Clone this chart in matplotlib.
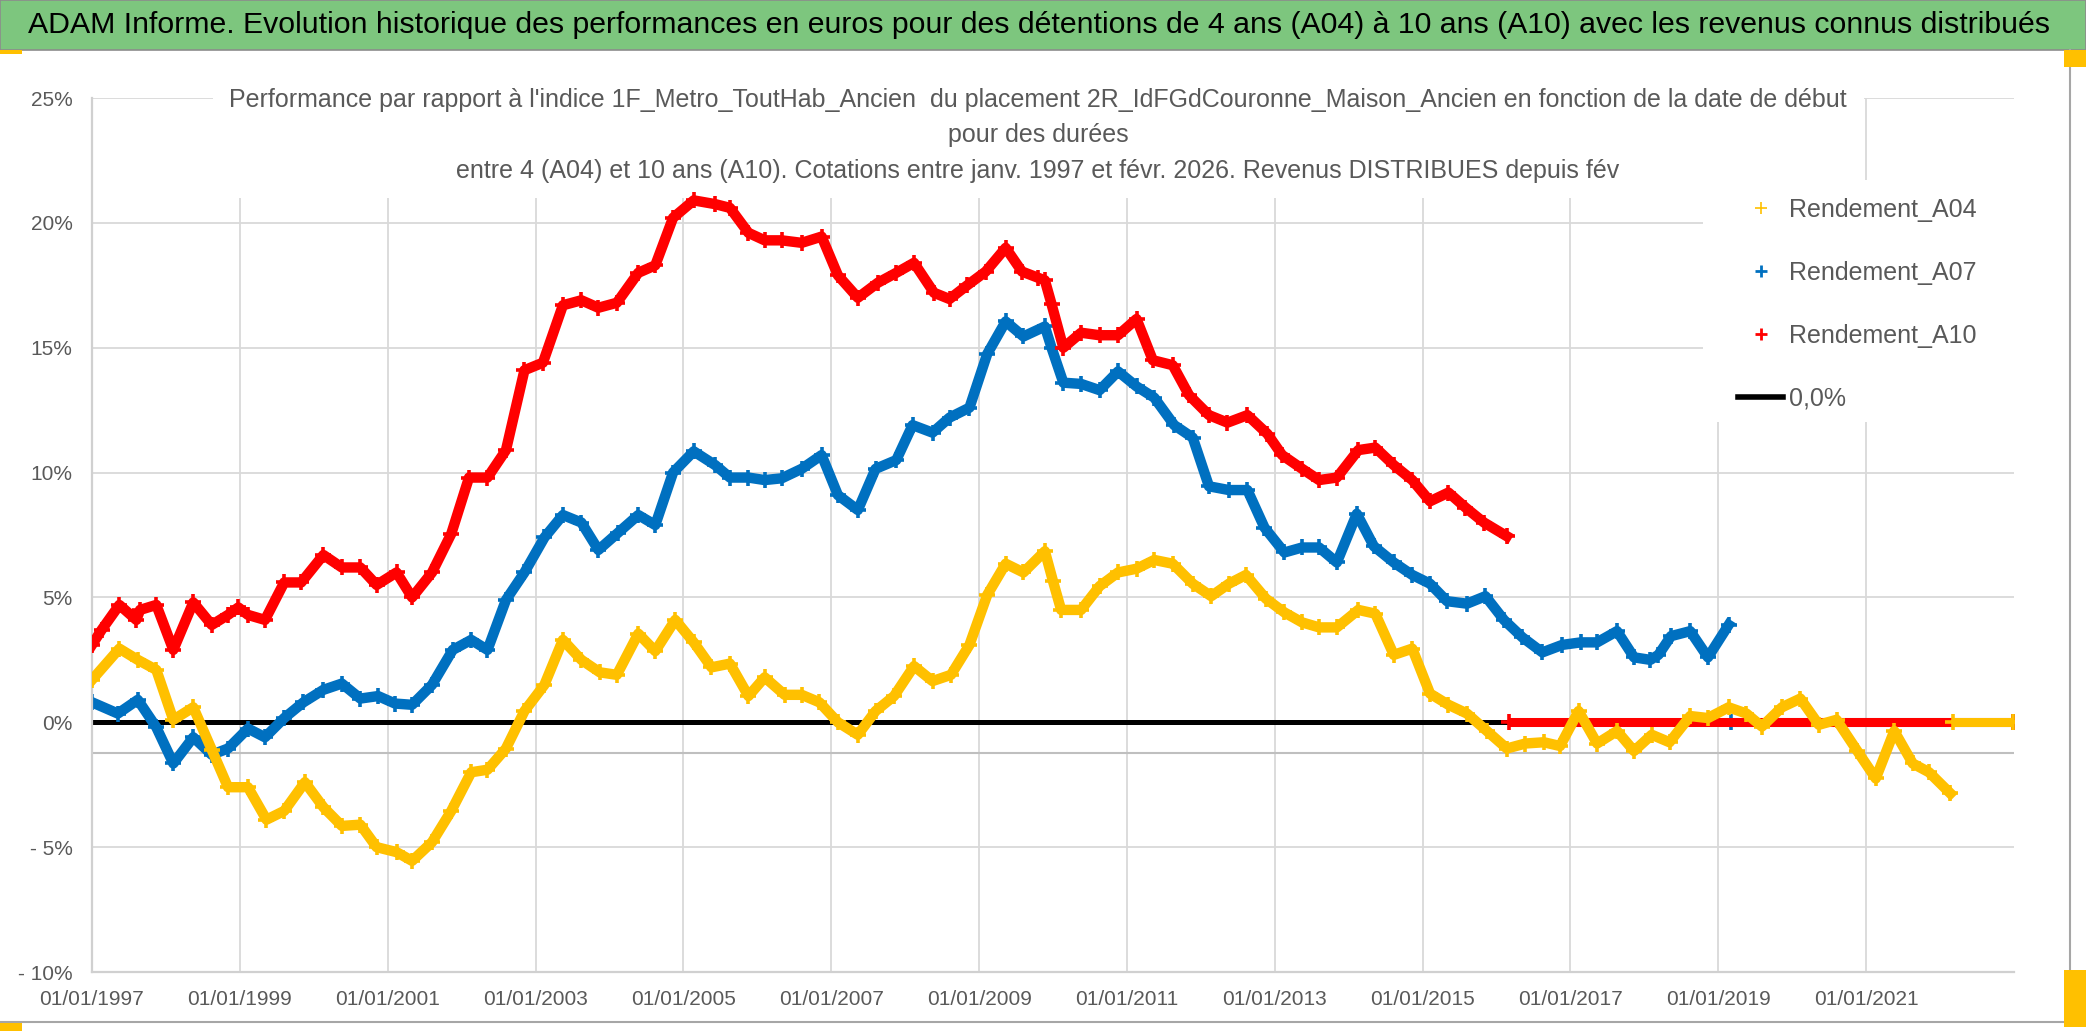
import matplotlib
matplotlib.use('Agg')
import matplotlib.pyplot as plt
from matplotlib.patches import Rectangle
from matplotlib.lines import Line2D

# ---- data (x = decimal year of start date, y = %) ----
a04_years = [1997.00, 1997.37, 1997.62, 1997.87, 1998.10, 1998.37, 1998.62, 1998.84, 1999.11, 1999.36,
             1999.60, 1999.88, 2000.13, 2000.38, 2000.63, 2000.85, 2001.12, 2001.33, 2001.60, 2001.86,
             2002.13, 2002.35, 2002.60, 2002.85, 2003.12, 2003.37, 2003.62, 2003.87, 2004.10, 2004.39,
             2004.62, 2004.89, 2005.14, 2005.38, 2005.63, 2005.88, 2006.10, 2006.37, 2006.60, 2006.84,
             2007.09, 2007.36, 2007.60, 2007.85, 2008.12, 2008.37, 2008.62, 2008.87, 2009.11, 2009.36,
             2009.60, 2009.89, 2010.00, 2010.11, 2010.38, 2010.63, 2010.88, 2011.13, 2011.37, 2011.62,
             2011.89, 2012.14, 2012.38, 2012.61, 2012.88, 2013.13, 2013.37, 2013.60, 2013.84, 2014.13,
             2014.36, 2014.61, 2014.86, 2015.10, 2015.35, 2015.60, 2015.87, 2016.14, 2016.39, 2016.64,
             2016.86, 2017.11, 2017.36, 2017.63, 2017.86, 2018.10, 2018.34, 2018.62, 2018.86, 2019.14,
             2019.38, 2019.59, 2019.86, 2020.11, 2020.36, 2020.60, 2020.88, 2021.13, 2021.38, 2021.63,
             2021.85, 2022.14]
a04_vals = [1.7, 2.95, 2.5, 2.1, 0.1, 0.6, -1.1, -2.6, -2.6, -3.9,
            -3.55, -2.4, -3.4, -4.15, -4.1, -5.0, -5.2, -5.55, -4.8, -3.55,
            -2.0, -1.9, -1.05, 0.45, 1.5, 3.3, 2.5, 2.0, 1.9, 3.55,
            2.85, 4.1, 3.2, 2.2, 2.35, 1.05, 1.8, 1.1, 1.1, 0.8,
            0.0, -0.5, 0.45, 1.05, 2.25, 1.65, 1.9, 3.1, 5.1, 6.35,
            6.0, 6.85, 5.65, 4.5, 4.5, 5.45, 6.0, 6.15, 6.5, 6.35,
            5.55, 5.05, 5.55, 5.9, 4.95, 4.4, 4.0, 3.8, 3.8, 4.5,
            4.35, 2.7, 2.95, 1.15, 0.7, 0.35, -0.35, -1.05, -0.85, -0.8,
            -0.95, 0.45, -0.85, -0.35, -1.15, -0.5, -0.8, 0.25, 0.17, 0.6,
            0.35, -0.17, 0.6, 0.95, -0.1, 0.1, -1.15, -2.25, -0.35, -1.65,
            -2.0, -2.85]

a07_years = [1997.00, 1997.35, 1997.62, 1997.87, 1998.10, 1998.37, 1998.62, 1998.84, 1999.11, 1999.34,
             1999.60, 1999.86, 2000.13, 2000.38, 2000.63, 2000.87, 2001.10, 2001.33, 2001.60, 2001.88,
             2002.13, 2002.35, 2002.60, 2002.85, 2003.12, 2003.37, 2003.62, 2003.85, 2004.12, 2004.39,
             2004.62, 2004.86, 2005.14, 2005.43, 2005.63, 2005.88, 2006.10, 2006.33, 2006.60, 2006.87,
             2007.09, 2007.36, 2007.60, 2007.88, 2008.10, 2008.37, 2008.60, 2008.87, 2009.11, 2009.36,
             2009.60, 2009.89, 2009.98, 2010.14, 2010.38, 2010.63, 2010.88, 2011.13, 2011.37, 2011.64,
             2011.89, 2012.11, 2012.38, 2012.63, 2012.86, 2013.13, 2013.37, 2013.60, 2013.84, 2014.11,
             2014.34, 2014.61, 2014.86, 2015.10, 2015.33, 2015.60, 2015.85, 2016.10, 2016.35, 2016.62,
             2016.89, 2017.14, 2017.36, 2017.63, 2017.86, 2018.08, 2018.19, 2018.36, 2018.62, 2018.86,
             2019.14]
a07_vals = [0.8, 0.35, 0.9, -0.2, -1.65, -0.6, -1.3, -1.05, -0.25, -0.6,
            0.17, 0.8, 1.3, 1.55, 0.95, 1.05, 0.75, 0.7, 1.5, 2.9,
            3.3, 2.9, 4.9, 6.0, 7.4, 8.3, 8.0, 6.9, 7.6, 8.3,
            7.9, 10.0, 10.85, 10.3, 9.8, 9.8, 9.7, 9.77, 10.15, 10.7,
            9.1, 8.5, 10.15, 10.5, 11.9, 11.6, 12.2, 12.6, 14.75, 16.05,
            15.45, 15.85, 15.0, 13.6, 13.55, 13.3, 14.05, 13.45, 13.0, 11.9,
            11.4, 9.45, 9.3, 9.3, 7.8, 6.8, 7.0, 7.0, 6.4, 8.35,
            7.05, 6.4, 5.9, 5.55, 4.85, 4.75, 5.05, 4.1, 3.4, 2.8,
            3.1, 3.2, 3.2, 3.65, 2.6, 2.5, 2.7, 3.45, 3.65, 2.6,
            3.9]

a10_years = [1997.00, 1997.13, 1997.37, 1997.60, 1997.65, 1997.87, 1998.10, 1998.37, 1998.62, 1998.84,
             1998.98, 1999.11, 1999.34, 1999.60, 1999.83, 2000.13, 2000.38, 2000.63, 2000.85, 2001.12,
             2001.33, 2001.60, 2001.86, 2002.10, 2002.35, 2002.60, 2002.85, 2003.10, 2003.37, 2003.62,
             2003.85, 2004.10, 2004.39, 2004.62, 2004.86, 2005.14, 2005.43, 2005.63, 2005.88, 2006.10,
             2006.33, 2006.60, 2006.87, 2007.09, 2007.36, 2007.63, 2007.88, 2008.12, 2008.39, 2008.60,
             2008.84, 2009.09, 2009.36, 2009.58, 2009.80, 2009.89, 2009.98, 2010.14, 2010.38, 2010.63,
             2010.88, 2011.13, 2011.35, 2011.62, 2011.84, 2012.11, 2012.36, 2012.63, 2012.90, 2013.10,
             2013.37, 2013.60, 2013.84, 2014.13, 2014.36, 2014.61, 2014.86, 2015.10, 2015.35, 2015.58,
             2015.83, 2016.14]
a10_vals = [3.1, 3.7, 4.7, 4.1, 4.5, 4.7, 2.9, 4.8, 3.9, 4.3,
            4.6, 4.3, 4.1, 5.6, 5.6, 6.7, 6.2, 6.2, 5.5, 6.0,
            5.0, 6.0, 7.55, 9.8, 9.8, 10.9, 14.1, 14.4, 16.7, 16.9,
            16.6, 16.8, 18.0, 18.3, 20.2, 20.9, 20.75, 20.6, 19.6, 19.3,
            19.3, 19.2, 19.45, 17.9, 17.0, 17.6, 18.0, 18.4, 17.2, 16.95,
            17.5, 18.05, 19.0, 18.05, 17.8, 17.7, 16.75, 15.0, 15.6, 15.5,
            15.5, 16.15, 14.5, 14.3, 13.1, 12.3, 12.0, 12.3, 11.55, 10.7,
            10.15, 9.7, 9.8, 10.9, 11.0, 10.3, 9.7, 8.85, 9.2, 8.6,
            8.0, 7.45]

# after the last known value each series sits on 0 until the end of the axis
zero_tail_start = {'A04': 2022.17, 'A07': 2019.17, 'A10': 2016.17}
zero_tail_end = 2022.99

x_ticks = [1997, 1999, 2001, 2003, 2005, 2007, 2009, 2011, 2013, 2015, 2017, 2019, 2021]
x_labels = ['01/01/1997', '01/01/1999', '01/01/2001', '01/01/2003', '01/01/2005', '01/01/2007',
            '01/01/2009', '01/01/2011', '01/01/2013', '01/01/2015', '01/01/2017', '01/01/2019',
            '01/01/2021']
y_ticks = [-10, -5, 0, 5, 10, 15, 20, 25]
y_labels = ['- 10%', '- 5%', '0%', '5%', '10%', '15%', '20%', '25%']

title = ("ADAM Informe. Evolution historique des performances en euros pour des détentions "
         "de 4 ans (A04) à 10 ans (A10) avec les revenus connus distribués")
sub_lines = ["Performance par rapport à l'indice 1F_Metro_ToutHab_Ancien  du placement "
             "2R_IdFGdCouronne_Maison_Ancien en fonction de la date de début",
             "pour des durées",
             "entre 4 (A04) et 10 ans (A10). Cotations entre janv. 1997 et févr. 2026. "
             "Revenus DISTRIBUES depuis fév"]

# ---- styling ----
font = 'Liberation Sans'
grey_txt = '#595959'
c04, c07, c10 = '#FFC000', '#0070C0', '#FF0000'

W, H = 2086, 1031
fig = plt.figure(figsize=(W / 100, H / 100), dpi=100)
fig.patch.set_facecolor('white')


def fx(px):
    return px / W


def fy(py):
    return 1 - py / H


ax = fig.add_axes([fx(92), fy(972), fx(2014) - fx(92), fy(98) - fy(972)])
ax.set_axisbelow(True)

# banner
fig.patches.append(Rectangle((0, fy(50)), 1, 1 - fy(50), transform=fig.transFigure,
                             facecolor='#7DC67E', edgecolor='#8C8C8C', lw=1.2, zorder=0))
fig.text(fx(28), fy(25), title, ha='left', va='center', fontsize=21.8, family=font,
         color='black')

# series
def draw(years, vals, tail, color, z):
    ax.plot(years, vals, color=color, lw=7.5, marker='+', ms=12, mew=2.6, zorder=z)
    ax.plot([tail, zero_tail_end], [0, 0], color=color, lw=6.5, marker='+', ms=12, mew=2.6,
            zorder=z, solid_capstyle='butt')


ax.axhline(0, color='black', lw=3.6, zorder=1.5)
ax.axhline(-1.25, color='#BFBFBF', lw=1.5, zorder=0.8)
draw(a07_years, a07_vals, zero_tail_start['A07'], c07, 2)
draw(a10_years, a10_vals, zero_tail_start['A10'], c10, 3)
draw(a04_years, a04_vals, zero_tail_start['A04'], c04, 4)

ax.set_xlim(1997, 2023)
ax.set_ylim(-10, 25)
ax.set_xticks(x_ticks)
ax.set_xticklabels(x_labels, family=font)
ax.set_yticks(y_ticks)
ax.set_yticklabels(y_labels, family=font)
ax.tick_params(length=0, colors=grey_txt, labelsize=15)
ax.tick_params(axis='x', pad=13)
ax.tick_params(axis='y', pad=14)
ax.grid(True, color='#D9D9D9', lw=1.3)
for s in ['top', 'right']:
    ax.spines[s].set_visible(False)
for s in ['left', 'bottom']:
    ax.spines[s].set_color('#D0D0D0')
    ax.spines[s].set_linewidth(1.6)

# white boxes behind chart title and legend (they hide the grid like in Excel)
ax.add_patch(Rectangle((fx(213), fy(198)), fx(1864) - fx(213), fy(80) - fy(198),
                       transform=fig.transFigure, facecolor='white', edgecolor='none',
                       zorder=1, clip_on=False))
ax.add_patch(Rectangle((fx(1703), fy(422)), fx(2016) - fx(1703), fy(180) - fy(422),
                       transform=fig.transFigure, facecolor='white', edgecolor='none',
                       zorder=1, clip_on=False))

for line, py in zip(sub_lines, [100, 135, 171]):
    fig.text(fx(1038), fy(py), line, ha='center', va='center', fontsize=18, family=font,
             color=grey_txt)

handles = [Line2D([], [], ls='none', marker='+', ms=8, mew=1.2, color=c04),
           Line2D([], [], ls='none', marker='+', ms=8, mew=2, color=c07),
           Line2D([], [], ls='none', marker='+', ms=8, mew=2, color=c10),
           Line2D([], [], color='black', lw=4)]
ax.legend(handles, ['Rendement_A04', 'Rendement_A07', 'Rendement_A10', '0,0%'],
          loc='upper left', bbox_to_anchor=(fx(1738), fy(198)), bbox_transform=fig.transFigure,
          frameon=False, labelcolor=grey_txt, handlelength=1.8,
          handletextpad=0.25, labelspacing=1.55, borderpad=0, borderaxespad=0,
          prop={'family': font, 'size': 18})

# chart frame and selection handles
fig.add_artist(Line2D([fx(2070), fx(2070)], [fy(50), fy(1022)], color='#A6A6A6', lw=1.5))
fig.add_artist(Line2D([0, fx(2070)], [fy(1022), fy(1022)], color='#A6A6A6', lw=1.5))
for (x0, y0, w, h) in [(0, 50, 22, 4), (2064, 50, 22, 17), (0, 1023, 22, 8), (2064, 970, 22, 57)]:
    fig.patches.append(Rectangle((fx(x0), fy(y0 + h)), w / W, h / H, transform=fig.transFigure,
                                 facecolor='#FFC000', edgecolor='none', zorder=5))

fig.savefig('out.png', dpi=100)
